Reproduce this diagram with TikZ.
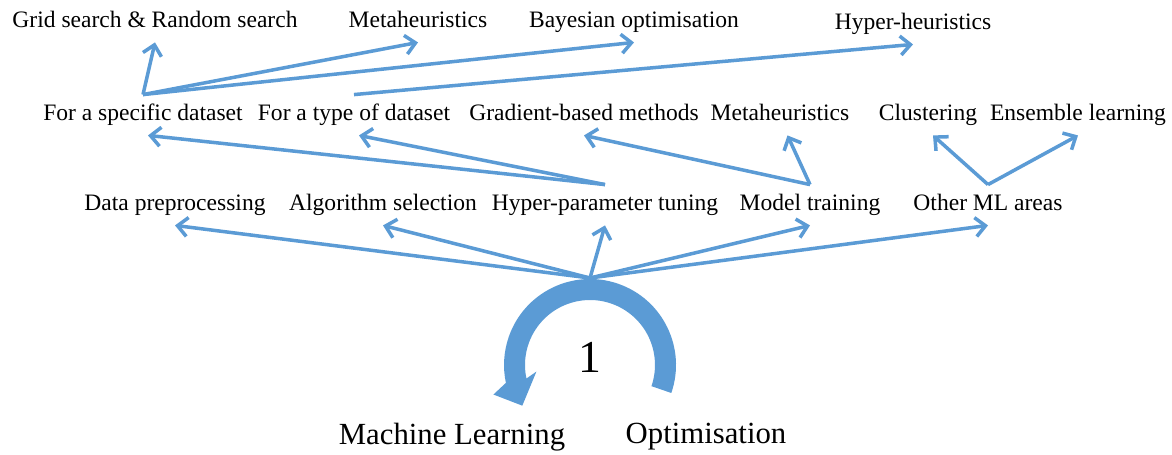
\documentclass[tikz,border=0pt]{standalone}
\usepackage{fontspec}
\setmainfont{Liberation Serif}
\usetikzlibrary{arrows.meta}
\definecolor{mlblue}{RGB}{91,155,213}

\begin{document}
\begin{tikzpicture}[x=0.02cm, y=-0.02cm,
  every node/.style={font=\fontsize{13.4}{16}\selectfont, text height=9.6pt, text depth=3pt, inner xsep=0pt, inner ysep=0.18cm},
  arr/.style={draw=mlblue, line width=2pt, -{Straight Barb[length=0.2cm, width=0.38cm]}},
  big/.style={font=\fontsize{17.5}{21}\selectfont, text height=, text depth=}]
  \useasboundingbox (0,0) rectangle (1172,455);
  \coordinate (hub) at (590,278);
  \coordinate (cen) at (590,365);

  \node (gs) at (155,22) {Grid search \& Random search};
  \node (mh1) at (418,22) {Metaheuristics};
  \node (bo) at (634,22) {Bayesian optimisation};
  \node (hh) at (913,24) {Hyper-heuristics};

  \node (fsd) at (143,115) {For a specific dataset};
  \node (ftd) at (354,115) {For a type of dataset};
  \node (gbm) at (584,115) {Gradient-based methods};
  \node (mh2) at (780,115) {Metaheuristics};
  \node (cl) at (928,115) {Clustering};
  \node (el) at (1078,115) {Ensemble learning};

  \node (dp) at (175,205) {Data preprocessing};
  \node (as) at (383,205) {Algorithm selection};
  \node (hpt) at (605,205) {Hyper-parameter tuning};
  \node (mt) at (810,205) {Model training};
  \node (oml) at (988,205) {Other ML areas};

  \fill[mlblue] ([shift={(-19:1.72cm)}]cen) arc[start angle=-19, end angle=192, radius=1.72cm]
    -- ([shift={(197:2.02cm)}]cen) -- ([shift={(211:1.58cm)}]cen) -- ([shift={(187:1.08cm)}]cen)
    -- ([shift={(192:1.3cm)}]cen) arc[start angle=192, end angle=-19, radius=1.3cm] -- cycle;
  \node[font=\fontsize{26}{30}\selectfont, text height=, text depth=] (one) at (590,357) {1};
  \node[big] (ml) at (452,437) {Machine Learning};
  \node[big] (opt) at (706,437) {Optimisation};

  \foreach \t in {dp,as,hpt,mt,oml}
    \draw[arr] (hub) -- (\t.south);
  \draw[arr] (hpt.north) -- ([xshift=0.1cm]fsd.south);
  \draw[arr] (hpt.north) -- ([xshift=0.1cm]ftd.south);
  \draw[arr] (mt.north) -- (gbm.south);
  \draw[arr] (mt.north) -- ([xshift=0.15cm]mh2.south);
  \draw[arr] (oml.north) -- ([xshift=0.1cm]cl.south);
  \draw[arr] (oml.north) -- (el.south);
  \draw[arr] (fsd.north) -- (gs.south);
  \draw[arr] (fsd.north) -- (mh1.south);
  \draw[arr] (fsd.north) -- (bo.south);
  \draw[arr] (ftd.north) -- (hh.south);
\end{tikzpicture}
\end{document}
